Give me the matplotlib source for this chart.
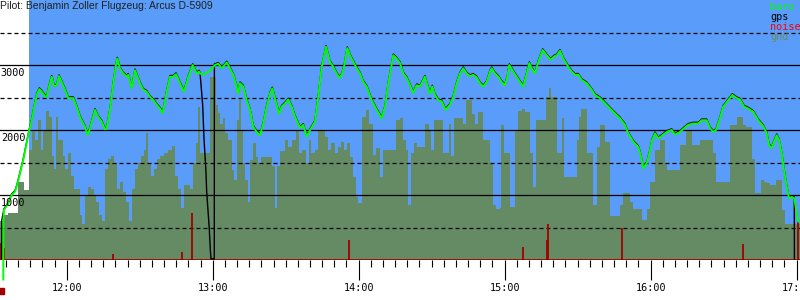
import matplotlib.pyplot as plt
import matplotlib.transforms as mtransforms
import numpy as np

# time in minutes after 12:00, altitude in m
baro_t = [-26.06, -26.0, -25.77, -24.0, -22.6, -21.25, -20.55, -19.19, -17.84, -16.44, -15.37,
          -14.39, -13.32, -12.33, -11.26, -10.28, -8.92, -8.22, -7.27, -6.17, -5.10, -4.11,
          -3.16, -2.06, -0.70, 0.66, 2.71, 4.11, 5.47, 7.52, 8.63, 9.58, 11.63, 12.99, 14.39,
          15.74, 16.44, 17.80, 19.15, 20.26, 20.80, 21.91, 23.26, 24.66, 25.32, 26.72, 28.07,
          28.77, 30.13, 31.48, 32.88, 34.24, 35.59, 36.99, 38.35, 39.46, 41.10, 42.46, 43.81,
          44.92, 46.57, 48.21, 49.98, 51.79, 53.43, 54.38, 54.79, 56.14, 58.90, 60.95, 62.31,
          63.71, 65.76, 67.12, 68.47, 69.87, 70.53, 71.23, 72.58, 73.98, 75.34, 76.69, 78.09,
          79.45, 80.80, 82.20, 83.56, 84.50, 85.61, 87.26, 88.37, 89.72, 91.08, 92.48, 93.83,
          95.89, 97.24, 98.64, 100.0, 102.05, 103.41, 104.81, 105.75, 106.57, 108.22, 109.57,
          110.97, 112.04, 113.03, 113.97, 115.33, 116.44, 118.49, 120.55, 121.90, 123.30,
          125.36, 127.41, 129.47, 130.82, 132.18, 134.23, 135.63, 136.99, 138.34, 139.74,
          141.10, 142.45, 143.85, 145.21, 145.91, 147.26, 147.96, 149.32, 150.26, 151.37,
          152.73, 154.13, 155.77, 157.54, 158.89, 160.29, 161.65, 163.00, 164.40, 165.76,
          167.11, 168.51, 169.87, 171.22, 172.62, 173.98, 174.68, 176.03, 177.39, 178.79,
          180.14, 181.09, 181.91, 183.55, 184.95, 186.31, 187.66, 189.06, 190.13, 191.12,
          192.47, 193.83, 195.64, 197.28, 198.92, 200.28, 201.39, 202.75, 204.10, 206.16,
          207.56, 208.91, 210.27, 211.67, 213.72, 215.78, 217.13, 219.19, 220.54, 222.60,
          224.65, 227.41, 229.46, 230.82, 232.87, 234.93, 235.91, 236.98, 238.38, 239.45,
          240.68, 241.79, 243.15, 244.55, 246.60, 248.66, 250.01, 252.07, 254.12, 255.48,
          257.53, 259.59, 260.99, 263.04, 264.40, 265.75, 266.86, 268.22, 269.86, 271.92,
          273.56, 275.37, 276.73, 278.37, 280.14, 282.19, 284.25, 286.30, 287.70, 288.65,
          289.76, 290.70, 291.81, 292.75, 293.87, 294.81, 295.92, 296.87, 297.98, 299.04,
          300.03, 300.69, 301.39]
baro_alt = [-300, 590, 770, 870, 1000, 1050, 1130, 1330, 1540, 1800, 2000,
            2150, 2360, 2540, 2630, 2590, 2520, 2510, 2670, 2820, 2670, 2690,
            2830, 2740, 2620, 2490, 2490, 2360, 2200, 2050, 1920, 2030, 2310, 2200, 2130,
            2010, 2030, 2310, 2720, 3000, 3100, 2950, 2870, 2820, 2850, 2640, 2920,
            2850, 2720, 2620, 2590, 2510, 2460, 2390, 2330, 2260, 2590, 2820, 2820,
            2860, 2720, 2590, 2820, 3000, 2870, 2900, 2870, 2850, 2910, 3000, 3020,
            2950, 3040, 2950, 2850, 2670, 2560, 2720, 2670, 2460, 2310, 2050, 1970,
            1920, 2100, 2360, 2560, 2640, 2490, 2250, 2360, 2410, 2470, 2360, 2210,
            2030, 2080, 1900, 2000, 2130, 2510, 2970, 3130, 3280, 3050, 2970,
            2870, 2800, 2850, 2970, 3260, 3150, 3000, 2870, 2740, 2670,
            2460, 2310, 2180, 2360, 2720, 3150, 3100, 3030, 2870, 2800,
            2690, 2570, 2690, 2670, 2720, 2820, 2720, 2560, 2670, 2540,
            2460, 2440, 2310, 2390, 2510, 2720, 2870, 2950, 2870, 2830,
            2850, 2810, 2720, 2670, 2740, 2900, 2950, 2870, 2820, 2740,
            2690, 2820, 3000, 2900, 2820, 2740, 2670, 2870, 3030, 2950,
            2870, 3050, 3230, 3150, 3080, 3130, 3150, 3220, 3100, 2970,
            2900, 2850, 2850, 2770, 2720, 2620, 2540, 2490, 2440, 2360,
            2280, 2180, 2080, 1950, 1820, 1740, 1620, 1410, 1490, 1640,
            1850, 1950, 1870, 1910, 1970, 2000, 1930, 1970, 2040, 2080,
            2100, 2100, 2150, 2150, 2030, 1970, 2000, 2150, 2360, 2460,
            2540, 2490, 2470, 2360, 2330, 2280, 2150, 2060, 1950, 1770,
            1720, 1820, 1920, 1850, 1640, 1390, 1130, 950, 970, 950,
            720, 590, 590]

# gps follows baro except where the fix was lost
gps_lost_t = [55.9, 56.43, 57.25, 57.54, 58.61, 59.02, 59.30, 60.66, 60.70]
gps_lost_alt = [2360, 1850, 1330, 1030, 460, 150, 0, 0, 3000]

gnd_t = [-27.41, -25.77, -24.12, -22.48, -20.83, -20.01, -17.55, -15.49, -14.26, -13.03,
         -11.79, -10.56, -9.74, -8.50, -7.27, -6.04, -5.22, -4.39, -3.57, -2.34, -1.52,
         -0.70, 0.54, 1.77, 3.00, 4.24, 5.47, 6.29, 7.52, 8.76, 9.99, 11.22, 12.05, 13.28,
         14.51, 15.75, 16.98, 18.21, 19.44, 20.68, 21.91, 23.14, 24.38, 25.61, 26.84, 28.08,
         29.31, 30.54, 31.77, 32.60, 33.42, 34.65, 35.88, 37.12, 38.35, 39.99, 41.64, 43.28,
         44.52, 45.75, 46.98, 48.21, 49.45, 50.68, 51.91, 53.15, 53.97, 54.79, 58.90, 61.37,
         62.19, 63.01, 64.24, 65.07, 66.30, 67.94, 68.76, 70.00, 70.82, 71.64, 72.46, 73.29,
         74.52, 75.34, 76.57, 77.81, 78.63, 79.86, 84.38, 85.62, 86.44, 87.67, 89.73, 90.96,
         92.61, 94.25, 95.48, 96.71, 98.36, 99.59, 100.41, 102.06, 103.29, 106.17, 107.40,
         108.63, 110.28, 111.51, 112.74, 113.97, 115.21, 116.44, 117.67, 118.91, 119.73,
         121.37, 123.02, 124.25, 125.89, 127.13, 128.77, 130.00, 135.35, 136.99, 138.32,
         139.56, 140.38, 141.61, 142.84, 144.08, 147.37, 149.01, 149.83, 151.06, 154.76,
         157.23, 158.05, 159.28, 162.98, 164.22, 166.68, 167.92, 169.15, 171.20, 174.08,
         175.31, 176.55, 178.19, 178.60, 179.83, 182.30, 184.36, 185.59, 187.23, 188.47,
         190.52, 191.75, 192.99, 197.10, 198.33, 199.15, 201.62, 203.67, 204.49, 209.84,
         210.66, 211.48, 213.95, 216.41, 218.06, 219.19, 221.25, 223.30, 227.41, 228.64,
         231.52, 232.75, 236.45, 238.51, 239.74, 241.80, 243.85, 245.91, 246.73, 252.07,
         254.54, 257.00, 260.29, 265.63, 266.87, 272.62, 275.50, 277.96, 279.20, 281.66,
         282.90, 285.36, 286.60, 287.83, 289.06, 291.53, 294.00, 295.23, 301.39]
gnd_alt = [600, 700, 720, 720, 720, 1200, 1080, 1700, 2000, 1850,
           2150, 1700, 2000, 2300, 2200, 1600, 1400, 2200, 1850, 1850, 1600,
           1400, 1650, 1300, 1100, 1100, 700, 550, 1000, 1130, 1100, 1000, 900, 700,
           600, 1400, 1550, 1600, 1500, 1100, 1200, 1050, 900, 600, 1100, 1400,
           1500, 1600, 1700, 1950, 1500, 1300, 1400, 1550, 1600, 1650, 1700, 1750,
           1300, 1100, 800, 1150, 1150, 1100, 1500, 1800, 2350, 1640, 2820, 2390,
           2260, 2100, 2180, 1950, 1850, 1390, 1230, 2150, 2460, 2000, 1490, 1230,
           900, 1540, 1800, 1590, 1490, 1590, 1440, 800, 1440, 1670, 1850, 1740,
           1850, 2000, 1640, 1690, 1490, 1850, 1640, 1690, 2000, 1900, 1690,
           1800, 1640, 1740, 1820, 1690, 1800, 1590, 1280, 970, 870,
           2200, 2310, 2100, 1620, 1720, 1280, 1690, 2150, 2180, 1850,
           1700, 850, 1640, 1800, 1740, 2100, 2000, 1690, 2150, 1640,
           2100, 1600, 2180, 2100, 2460, 2250, 2100, 2280, 1850, 1500,
           850, 780, 800, 2080, 1640, 820, 2000, 2300, 2330, 2280,
           1640, 1130, 2150, 2510, 2640, 2510, 1640, 2180, 1280, 1850,
           2200, 2330, 1640, 850, 1740, 2080, 1820, 670, 850, 1030,
           900, 790, 620, 790, 1200, 1690, 1850, 1500, 1390, 1770,
           2000, 1770, 1850, 1640, 1200, 2080, 2200, 2080, 2050, 1560,
           1030, 1230, 1200, 1180, 1160, 1230, 770, 560, 560]

noise_t = [-27.2, -25.77, 16.15, 19.03, 47.39, 51.70, 116.03, 153.43, 187.66, 197.40, 198.0,
           228.23, 277.96, 294.28, 300.77]
noise_v = [260, 190, 20, 100, 130, 720, 310, 20, 205, 310, 550, 490, 250, 20, 590]

hours = [0, 60, 120, 180, 240, 300]
hour_labels = ['12:00', '13:00', '14:00', '15:00', '16:00', '17:00']

sky = '#599cf9'
ground = '#658b64'
dark_red = '#a00000'

fig = plt.figure(figsize=(8, 3), dpi=100)
ax = fig.add_axes([0, 40 / 300, 1, 260 / 300])
ax.set_xlim(-27.41, 301.39)
ax.set_ylim(0, 4000)
for s in ax.spines.values():
    s.set_visible(False)

ax.axvspan(-15.5, 302, color=sky, lw=0, zorder=0)
ax.fill_between(gnd_t, gnd_alt, step='post', color=ground, lw=0, zorder=1)

for v in [1000, 2000, 3000]:
    ax.axhline(v, color='black', lw=0.9, zorder=2)
for v in [500, 1500, 2500, 3500]:
    ax.axhline(v, color='black', lw=0.9, ls=(0, (3.2, 2.4)), zorder=2)

ax.vlines(noise_t, 0, noise_v, color=dark_red, lw=1.3, zorder=3)
ax.axhline(0, color=dark_red, lw=2, zorder=3)

bt = np.array(baro_t)
ba = np.array(baro_alt)

before = (bt > -26.0) & (bt <= 54.8)
after = (bt >= 60.95) & (bt <= 299.04)
gps_t = [-26.7, -26.7] + list(bt[before]) + gps_lost_t + list(bt[after]) + [299.1]
gps_alt = [0, 590] + list(ba[before]) + gps_lost_alt + list(ba[after]) + [0]

# gps drawn under baro, nudged up a pixel so it shows along the top edge
up = mtransforms.offset_copy(ax.transData, fig=fig, x=0, y=0.85, units='points')
ax.plot(gps_t, gps_alt, color='black', lw=1.0, zorder=4, transform=up)
ax.plot(bt, ba, color='#00ff00', lw=1.4, zorder=5, clip_on=False)

# start marker below the axis
ax.plot([-26.9], [-480], marker='s', ms=4, color=dark_red, lw=0, clip_on=False)

ax.set_yticks([])
ax.set_xticks(hours)
ax.set_xticks(np.arange(-25, 305, 5), minor=True)
ax.set_xticklabels(hour_labels, family='DejaVu Sans Mono', fontsize=7.3)
ax.tick_params(axis='x', which='major', direction='out', length=14.5, width=0.8, pad=2)
ax.tick_params(axis='x', which='minor', direction='out', length=5, width=0.8)

for v in [1000, 2000, 3000]:
    ax.annotate(str(v), xy=(0.001, v), xycoords=('axes fraction', 'data'),
                xytext=(0, -2), textcoords='offset points', va='top', ha='left',
                family='DejaVu Sans Mono', fontsize=7.3, zorder=6)

fig.text(0.0, 1 - 1 / 300, 'Pilot: Benjamin Zoller Flugzeug: Arcus D-5909',
         va='top', ha='left', family='Liberation Sans', fontsize=7.5, color='#202020')

legend = [('baro', '#00ff00'), ('gps', 'black'), ('noise', '#ff0000'), ('gnd', '#6b8a5f')]
for i, (name, col) in enumerate(legend):
    fig.text(770 / 800, 1 - (10 + 10 * i) / 300, name, va='baseline', ha='left',
             family='DejaVu Sans Mono', fontsize=7.3, color=col)

plt.savefig('out.png', dpi=100)
